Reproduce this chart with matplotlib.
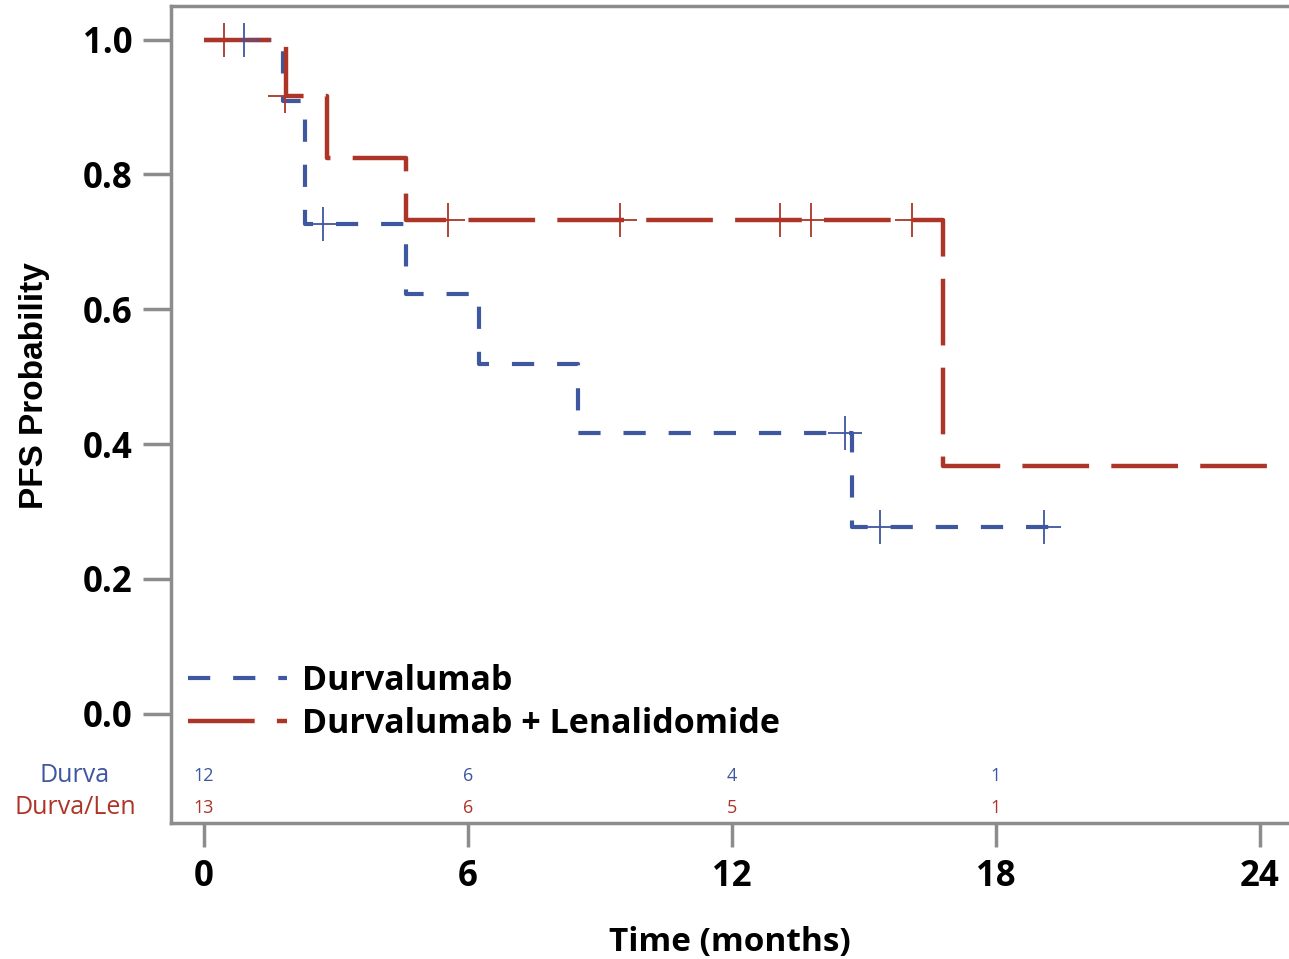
import numpy as np
import matplotlib
matplotlib.use("Agg")
from matplotlib import pyplot as plt

# Kaplan-Meier step data (time in months, PFS probability)
durva_t = [0, 1.8, 2.3, 4.6, 6.25, 8.5, 14.73, 19.45]
durva_s = [1.0, 0.909, 0.727, 0.623, 0.519, 0.416, 0.277, 0.277]
durva_cens_t = [0.91, 2.7, 14.57, 15.36, 19.1]
durva_cens_s = [1.0, 0.727, 0.416, 0.277, 0.277]

combo_t = [0, 1.86, 2.8, 4.6, 16.8, 24.27]
combo_s = [1.0, 0.917, 0.825, 0.733, 0.367, 0.367]
combo_cens_t = [0.45, 1.84, 5.55, 9.45, 13.1, 13.8, 16.1]
combo_cens_s = [1.0, 0.917, 0.733, 0.733, 0.733, 0.733, 0.733]

risk_times = [0, 6, 12, 18]
durva_risk = [12, 6, 4, 1]
combo_risk = [13, 6, 5, 1]

xticks = [0, 6, 12, 18, 24]
yticks = [0.0, 0.2, 0.4, 0.6, 0.8, 1.0]

blue = "#3f56a0"
red = "#ad3528"
grey = "#8c8c8c"
font = "Open Sans"

plt.rcParams["lines.scale_dashes"] = False

fig = plt.figure(figsize=(12.89, 9.59), dpi=100)
ax = fig.add_axes([0.1327, 0.1418, 0.8673, 0.852])

ax.step(durva_t, durva_s, where="post", color=blue, lw=3.0,
        linestyle=(0, (16, 16.5)), label="Durvalumab")
ax.step(combo_t, combo_s, where="post", color=red, lw=3.2,
        linestyle=(0, (48, 16)), label="Durvalumab + Lenalidomide")
ax.plot(durva_cens_t, durva_cens_s, "+", color=blue, ms=25, mew=1.3)
ax.plot(combo_cens_t, combo_cens_s, "+", color=red, ms=25, mew=1.3)

# numbers at risk inside the plot area
for t, n in zip(risk_times, durva_risk):
    ax.text(t, -0.092, str(n), color=blue, fontsize=13, ha="center", va="center", family=font)
for t, n in zip(risk_times, combo_risk):
    ax.text(t, -0.139, str(n), color=red, fontsize=13, ha="center", va="center", family=font)

ax.set_xlim(-0.75, 24.66)
ax.set_ylim(-0.162, 1.050)
ax.set_xticks(xticks)
ax.set_xticklabels([str(x) for x in xticks], fontsize=25, fontweight="bold", family=font)
ax.set_yticks(yticks)
ax.set_yticklabels(["%.1f" % y for y in yticks], fontsize=25, fontweight="bold", family=font)
ax.tick_params(axis="y", direction="out", length=20, width=2.5, color=grey, pad=8)
ax.tick_params(axis="x", direction="out", length=17, width=2.5, color=grey, pad=9)

for side in ["left", "bottom", "top"]:
    ax.spines[side].set_color(grey)
    ax.spines[side].set_linewidth(2.5)
ax.spines["right"].set_visible(False)

ax.set_xlabel("Time (months)", fontsize=24, fontweight="bold", family=font, labelpad=22)
ax.set_ylabel("PFS Probability", fontsize=24, fontweight="bold", family="Liberation Sans")
ax.yaxis.set_label_coords(-0.108, 0.536)

# row labels of the risk table, placed in figure pixels left of the frame
fig.text(75 / 1289, 1 - 776 / 959, "Durva", color=blue, fontsize=18, ha="center", va="center", family=font)
fig.text(75 / 1289, 1 - 808 / 959, "Durva/Len", color=red, fontsize=18, ha="center", va="center", family=font)

ax.legend(loc="lower left", bbox_to_anchor=(0.0, 0.08), frameon=False,
          prop={"family": font, "weight": "bold", "size": 24.5},
          handlelength=2.9, handletextpad=0.45, labelspacing=0.25, borderaxespad=0.1)

fig.savefig("out.png", dpi=100)
